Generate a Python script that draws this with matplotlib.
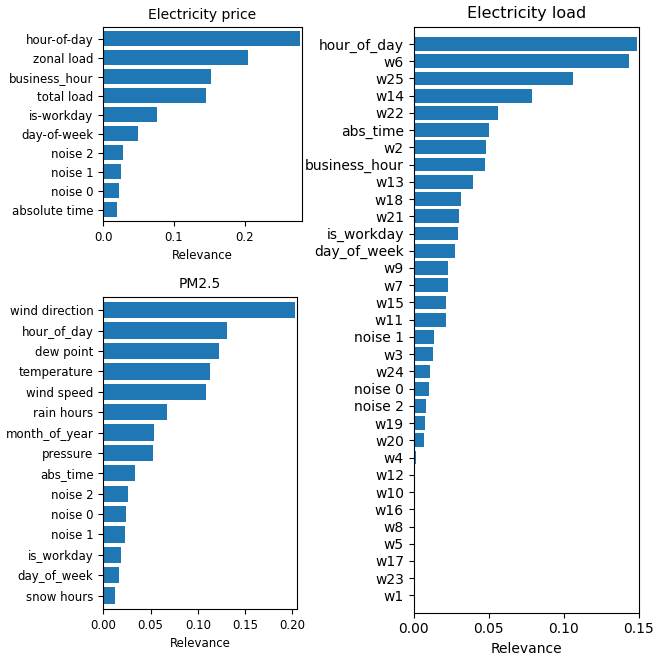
import matplotlib
matplotlib.use("Agg")
import matplotlib.pyplot as plt

# Electricity price relevance
price_features = ["hour-of-day", "zonal load", "business_hour", "total load", "is-workday",
                  "day-of-week", "noise 2", "noise 1", "noise 0", "absolute time"]
price_values = [0.278, 0.204, 0.152, 0.145, 0.0767, 0.050, 0.0276, 0.026, 0.022, 0.0193]

# PM2.5 relevance
pm_features = ["wind direction", "hour_of_day", "dew point", "temperature", "wind speed",
               "rain hours", "month_of_year", "pressure", "abs_time", "noise 2",
               "noise 0", "noise 1", "is_workday", "day_of_week", "snow hours"]
pm_values = [0.2028, 0.1306, 0.1221, 0.1125, 0.1083, 0.0669, 0.0541, 0.0531, 0.034,
             0.0265, 0.0244, 0.0234, 0.0191, 0.0170, 0.0127]

# Electricity load relevance
load_features = ["hour_of_day", "w6", "w25", "w14", "w22", "abs_time", "w2", "business_hour",
                 "w13", "w18", "w21", "is_workday", "day_of_week", "w9", "w7", "w15", "w11",
                 "noise 1", "w3", "w24", "noise 0", "noise 2", "w19", "w20", "w4", "w12",
                 "w10", "w16", "w8", "w5", "w17", "w23", "w1"]
load_values = [0.1489, 0.1436, 0.1062, 0.0789, 0.0562, 0.0502, 0.0482, 0.0476, 0.0396,
               0.0316, 0.0302, 0.0296, 0.0276, 0.0229, 0.0229, 0.0216, 0.0216, 0.0136,
               0.0129, 0.0109, 0.0102, 0.0082, 0.0076, 0.0069, 0.0015, 0.0, 0.0, 0.0,
               0.0, 0.0, 0.0, 0.0, 0.0]

BAR_COLOR = "#1f77b4"


def relevance_panel(ax, features, values, title, fs_tick, fs_title, ypad):
    pos = list(range(len(features)))
    ax.barh(pos, values, height=0.8, color=BAR_COLOR)
    ax.set_yticks(pos)
    ax.set_yticklabels(features, fontsize=fs_tick)
    ax.set_ylim(len(features) - 1 + ypad, -ypad)
    ax.tick_params(axis="x", labelsize=fs_tick)
    ax.set_xlabel("Relevance", fontsize=fs_tick)
    ax.set_title(title, fontsize=fs_title)


fig = plt.figure(figsize=(6.69, 6.56), dpi=100)

ax_price = fig.add_axes([0.154, 0.663, 0.2975, 0.2957])
relevance_panel(ax_price, price_features, price_values, "Electricity price", 8.5, 10, 0.6)
ax_price.set_xlim(0, 0.281)
ax_price.set_xticks([0.0, 0.1, 0.2])

ax_pm = fig.add_axes([0.1544, 0.0716, 0.289, 0.476])
relevance_panel(ax_pm, pm_features, pm_values, "PM2.5", 8.5, 10, 0.66)
ax_pm.set_xlim(0, 0.2046)
ax_pm.set_xticks([0.0, 0.05, 0.10, 0.15, 0.20])
ax_pm.set_xticklabels(["0.00", "0.05", "0.10", "0.15", "0.20"])

ax_load = fig.add_axes([0.6184, 0.066, 0.3363, 0.8933])
relevance_panel(ax_load, load_features, load_values, "Electricity load", 10, 11.5, 1.0)
ax_load.set_xlim(0, 0.15)
ax_load.set_xticks([0.0, 0.05, 0.10, 0.15])
ax_load.set_xticklabels(["0.00", "0.05", "0.10", "0.15"])

fig.savefig("out.png", dpi=100)
